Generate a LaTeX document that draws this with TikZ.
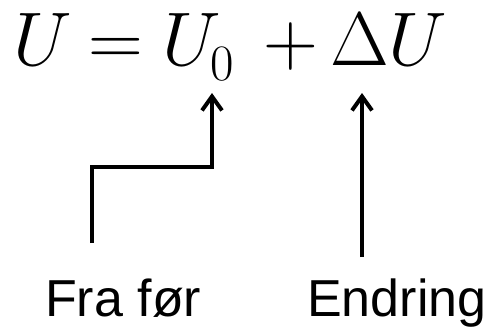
\RequirePackage{fix-cm}
\documentclass[tikz,border=0pt]{standalone}
\usepackage[no-math]{fontspec}
\newfontfamily\arialf{Liberation Sans}
\usetikzlibrary{arrows.meta}
\begin{document}
\begin{tikzpicture}[x=1pt,y=-1pt,
  eq/.style={inner sep=0pt, anchor=base west, font=\fontsize{76}{80}\selectfont},
  sub/.style={inner sep=0pt, anchor=base west, font=\fontsize{51}{55}\selectfont},
  lab/.style={inner sep=0pt, anchor=base west, font=\arialf\fontsize{52}{60}\selectfont},
  conn/.style={line width=4pt, -{Straight Barb[length=14pt,width=20pt]}}]
\useasboundingbox (0,0) rectangle (488,327);
\node[eq] (u) at (13,65) {$U$};
\node[eq] (eq) at (88,65) {$=$};
\node[eq] (u0) at (162,65) {$U$};
\node[sub] (zero) at (210,80) {$0$};
\node[eq] (plus) at (263,65) {$+$};
\node[eq] (du) at (330,65) {$\Delta U$};
\node[lab] (fra) at (45,316) {Fra før};
\node[lab] (endr) at (307,316) {Endring};
\coordinate (s1) at (92,243);
\coordinate (t1) at (212,93);
\coordinate (s2) at (362,257);
\coordinate (t2) at (362,93);
\draw[conn] (s1) |- (167-2,167) -| (t1);
\draw[conn] (s2) -- (t2);
\end{tikzpicture}
\end{document}
